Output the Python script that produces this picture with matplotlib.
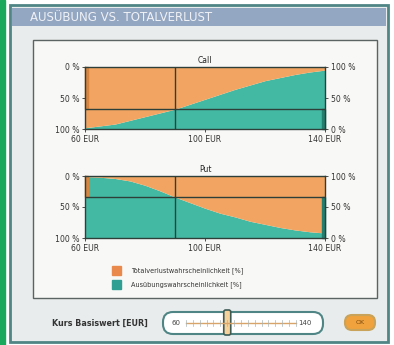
import numpy as np
import matplotlib
matplotlib.use("Agg")
import matplotlib.pyplot as plt
from matplotlib.patches import FancyBboxPatch, Rectangle

# underlying price grid (EUR) and probabilities in percent
price = [60, 65, 70, 75, 80, 85, 90, 95, 100, 105, 110, 115, 120, 125, 130, 135, 140]
call_exercise = [2, 5, 8, 14, 20, 26, 32, 40, 48, 56, 64, 71, 78, 83, 88, 92, 95]
put_exercise = [99, 98, 96, 92, 85, 76, 66, 57, 48, 40, 34, 27, 22, 17, 13, 10, 8]
spot = 90
slider_min, slider_max = 60, 140

title = "AUSÜBUNG VS. TOTALVERLUST"
legend_labels = ["Totalverlustwahrscheinlichkeit [%]", "Ausübungswahrscheinlichkeit [%]"]
xticks = [60, 100, 140]
xticklabels = ["60 EUR", "100 EUR", "140 EUR"]

ORANGE = "#f2a562"
ORANGE_DK = "#d9853e"
TEAL = "#43b8a3"
TEAL_DK = "#23806f"
LINE = "#2e3f3a"

W, H = 394, 345
fig = plt.figure(figsize=(W / 100, H / 100), dpi=100)
fig.patch.set_facecolor("white")

# background layer in pixel coordinates
bg = fig.add_axes([0, 0, 1, 1])
bg.set_xlim(0, W)
bg.set_ylim(H, 0)
bg.axis("off")

bg.add_patch(Rectangle((0, 0), 5, H, color="#19a85c"))
bg.add_patch(Rectangle((10, 5), 378, 337, facecolor="#e8ecec", edgecolor="#4f8585", lw=2))
bg.add_patch(Rectangle((12, 8), 374, 18, facecolor="#93a6c2", edgecolor="none"))
bg.text(30, 17.5, title, color="white", fontsize=8.5, va="center", ha="left", alpha=0.85)
bg.add_patch(Rectangle((33, 40), 344, 258, facecolor="#f8f8f6", edgecolor="#5b6462", lw=1))

# slider row
bg.text(148, 323, "Kurs Basiswert [EUR]", fontsize=5.8, weight="bold", ha="right", va="center",
        color="#333333")
bg.add_patch(FancyBboxPatch((163, 312), 160, 22, boxstyle="round,pad=0,rounding_size=10",
                            facecolor="white", edgecolor="#4f8585", lw=1.5))
bg.text(172, 323, str(slider_min), fontsize=5, va="center", color="#444444")
bg.text(312, 323, str(slider_max), fontsize=5, va="center", ha="right", color="#444444")
track_l, track_r = 186, 296
bg.plot([track_l, track_r], [323, 323], color="#d9a46a", lw=1)
for v in np.arange(slider_min, slider_max + 1, 5):
    tx = track_l + (v - slider_min) / (slider_max - slider_min) * (track_r - track_l)
    bg.plot([tx, tx], [320, 326], color="#a8b4b4", lw=0.5)
thumb_x = track_l + (spot - slider_min) / (slider_max - slider_min) * (track_r - track_l)
bg.add_patch(FancyBboxPatch((thumb_x - 3.5, 310), 7, 25, boxstyle="round,pad=0,rounding_size=2",
                            facecolor="#f6d29a", edgecolor="#3e5a55", lw=1.2))
bg.add_patch(FancyBboxPatch((345, 315), 30, 15, boxstyle="round,pad=0,rounding_size=7",
                            facecolor="#f0a23c", edgecolor="#c9a35a", lw=1.5))
bg.text(360, 322.5, "OK", fontsize=4.5, ha="center", va="center", color="#7a4a10")

# legend
bg.add_patch(Rectangle((112, 266), 9, 9, color="#e98a4c"))
bg.add_patch(Rectangle((112, 280), 9, 9, color="#2f9f93"))
bg.text(131, 271, legend_labels[0], fontsize=4.7, va="center", color="#333333")
bg.text(131, 285, legend_labels[1], fontsize=4.7, va="center", color="#333333")


def chart(top, bottom, values, name):
    ax = fig.add_axes([85 / W, 1 - bottom / H, 240 / W, (bottom - top) / H])
    ax.fill_between(price, 0, values, color=TEAL, lw=0)
    ax.fill_between(price, values, 100, color=ORANGE, lw=0)
    ax.set_xlim(price[0], price[-1])
    ax.set_ylim(0, 100)
    level = np.interp(spot, price, values)
    ax.axvline(spot, color=LINE, lw=1)
    ax.axhline(level, color=LINE, lw=1)
    # side indicator bars
    ax.add_patch(Rectangle((price[0], level), 1, 100 - level, color=ORANGE_DK, clip_on=False))
    ax.add_patch(Rectangle((price[-1] - 1, 0), 1, level, color=TEAL_DK, clip_on=False))
    ax.set_title(name, fontsize=5.5, pad=3, color="#222222")
    ax.set_xticks(xticks)
    ax.set_xticklabels(xticklabels)
    ax.set_yticks([0, 50, 100])
    ax.set_yticklabels(["100 %", "50 %", "0 %"])
    ax.tick_params(labelsize=5.6, length=2, width=0.6, pad=2, colors="#333333")
    for s in ax.spines.values():
        s.set_color(LINE)
        s.set_linewidth(1)
    ax2 = ax.twinx()
    ax2.set_ylim(0, 100)
    ax2.set_yticks([0, 50, 100])
    ax2.set_yticklabels(["0 %", "50 %", "100 %"])
    ax2.tick_params(labelsize=5.6, length=2, width=0.6, pad=2, colors="#333333")
    for s in ax2.spines.values():
        s.set_visible(False)


chart(67, 129, call_exercise, "Call")
chart(176, 238, put_exercise, "Put")

fig.savefig("out.png", dpi=100)
